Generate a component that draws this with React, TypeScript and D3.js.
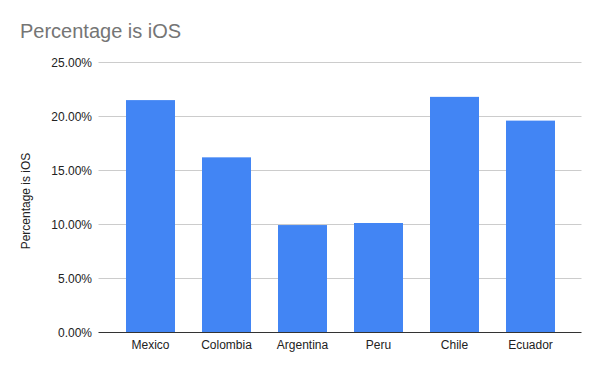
import React from "react";
import * as d3 from "d3";

const categories = ["Mexico", "Colombia", "Argentina", "Peru", "Chile", "Ecuador"];
const values = [0.215, 0.162, 0.0993, 0.1012, 0.218, 0.196];
const yTicks = [0, 0.05, 0.1, 0.15, 0.2, 0.25];
const title = "Percentage is iOS";
const yAxisTitle = "Percentage is iOS";

const W = 600;
const H = 371;
const FONT = "'Liberation Sans', Arial, sans-serif";

export default function App() {
  const plotLeft = 98.5;
  const plotRight = 581.5;
  const y = d3.scaleLinear().domain([0, 0.25]).range([332.3, 62.3]);
  const step = 76;
  const x = d3
    .scaleBand<string>()
    .domain(categories)
    .range([150.5 - step / 2, 150.5 - step / 2 + step * categories.length])
    .paddingInner(1 - 49 / step)
    .paddingOuter((1 - 49 / step) / 2);
  const fmt = (v: number) => (v * 100).toFixed(2) + "%";

  return (
    <svg
      width={W}
      height={H}
      style={{ position: "absolute", left: 0, top: 0, background: "#fff" }}
      fontFamily={FONT}
    >
      <rect x={0} y={0} width={W} height={H} fill="#fff" />
      <text x={20} y={37.5} fontSize={20} fill="#757575">
        {title}
      </text>
      {yTicks.map((t) => (
        <g key={t}>
          {t !== 0 && (
            <line
              x1={plotLeft}
              x2={plotRight}
              y1={Math.round(y(t)) + 0.5}
              y2={Math.round(y(t)) + 0.5}
              stroke="#cccccc"
              strokeWidth={1}
            />
          )}
          <text
            x={92}
            y={y(t) + 4.3}
            fontSize={12}
            fill="#222"
            textAnchor="end"
          >
            {fmt(t)}
          </text>
        </g>
      ))}
      {categories.map((c, i) => (
        <rect
          key={c}
          x={x(c)!}
          y={y(values[i])}
          width={x.bandwidth()}
          height={y(0) - y(values[i])}
          fill="#4285f4"
        />
      ))}
      <line
        x1={plotLeft}
        x2={plotRight}
        y1={332.5}
        y2={332.5}
        stroke="#333"
        strokeWidth={1}
      />
      {categories.map((c) => (
        <text
          key={c}
          x={x(c)! + x.bandwidth() / 2}
          y={349}
          fontSize={12}
          fill="#222"
          textAnchor="middle"
        >
          {c}
        </text>
      ))}
      <text
        transform={`translate(29.5, 201) rotate(-90)`}
        fontSize={12}
        fill="#222"
        textAnchor="middle"
      >
        {yAxisTitle}
      </text>
    </svg>
  );
}
